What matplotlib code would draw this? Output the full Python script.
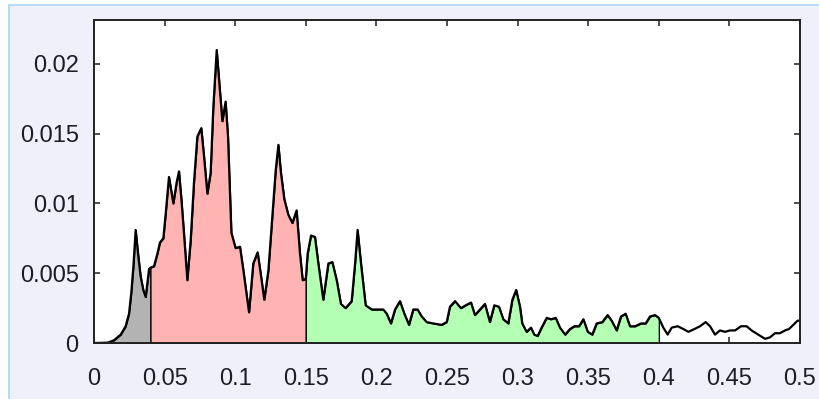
import matplotlib
matplotlib.use("Agg")
import matplotlib.pyplot as plt
import numpy as np
from matplotlib.patches import Rectangle
from matplotlib.ticker import FuncFormatter

# spectrum (frequency, power)
freq = [
    0.0, 0.005, 0.010, 0.0142, 0.0189, 0.0224, 0.0248, 0.0264, 0.0279, 0.0295,
    0.0312, 0.0330, 0.0349, 0.0366, 0.0378, 0.0390, 0.0400,
    0.0425, 0.0449, 0.0467, 0.0491, 0.0508, 0.0531, 0.0562, 0.0585, 0.0602,
    0.0619, 0.0637, 0.0661, 0.0685, 0.0708, 0.0732, 0.0760, 0.0779, 0.0803,
    0.0826, 0.0845, 0.0869, 0.0892, 0.0909, 0.0932, 0.0949, 0.0973, 0.1003,
    0.1034, 0.1058, 0.1098, 0.1128, 0.1159, 0.1183, 0.1206, 0.1235, 0.1263,
    0.1287, 0.1306, 0.1324, 0.1348, 0.1376, 0.1405, 0.1435, 0.1459, 0.1478,
    0.1500,
    0.1513, 0.1537, 0.1565, 0.1589, 0.1624, 0.1660, 0.1688, 0.1719, 0.1749,
    0.1782, 0.1825, 0.1849, 0.1867, 0.1891, 0.1924, 0.1967, 0.2026, 0.2049,
    0.2073, 0.2103, 0.2132, 0.2167, 0.2198, 0.2231, 0.2261, 0.2292, 0.2321,
    0.2356, 0.2403, 0.2462, 0.2498, 0.2521, 0.2557, 0.2599, 0.2632, 0.2670,
    0.2698, 0.2734, 0.2769, 0.2804, 0.2835, 0.2868, 0.2899, 0.2934, 0.2963,
    0.2990, 0.3017, 0.3033, 0.3064, 0.3095, 0.3118, 0.3142, 0.3170, 0.3206,
    0.3236, 0.3270, 0.3300, 0.3337, 0.3371, 0.3402, 0.3435, 0.3466, 0.3497,
    0.3529, 0.3560, 0.3600, 0.3638, 0.3666, 0.3702, 0.3732, 0.3765, 0.3796,
    0.3832, 0.3874, 0.3907, 0.3938, 0.3973, 0.4000,
    0.4032, 0.4063, 0.4091, 0.4134, 0.4174, 0.4209, 0.4252, 0.4292, 0.4332,
    0.4363, 0.4398, 0.4433, 0.4469, 0.4504, 0.4540, 0.4582, 0.4622, 0.4657,
    0.4705, 0.4752, 0.4787, 0.4823, 0.4858, 0.4894, 0.4922, 0.4953, 0.4983,
    0.5000,
]
power = [
    0.0, 0.00001, 0.00003, 0.0002, 0.0006, 0.0012, 0.0021, 0.0036, 0.0055, 0.0081,
    0.0064, 0.0048, 0.0038, 0.0033, 0.0043, 0.0053, 0.0054,
    0.0055, 0.0064, 0.0072, 0.0075, 0.0093, 0.0119, 0.0100, 0.0115, 0.0123,
    0.0103, 0.0079, 0.0045, 0.0074, 0.0115, 0.0148, 0.0154, 0.0134, 0.0107,
    0.0122, 0.0169, 0.0210, 0.0181, 0.0159, 0.0173, 0.0148, 0.0079, 0.0068,
    0.0069, 0.0052, 0.0022, 0.0057, 0.0065, 0.0048, 0.0031, 0.0052, 0.0091,
    0.0124, 0.0142, 0.0122, 0.0103, 0.0092, 0.0086, 0.0095, 0.0064, 0.0045,
    0.0046,
    0.0064, 0.0077, 0.0076, 0.0057, 0.0031, 0.0057, 0.0058, 0.0045, 0.0028,
    0.0025, 0.0030, 0.0057, 0.0081, 0.0057, 0.0027, 0.0024, 0.0024, 0.0024,
    0.0021, 0.0014, 0.0024, 0.0030, 0.0021, 0.0013, 0.0024, 0.0024, 0.0019,
    0.0015, 0.0014, 0.0013, 0.0015, 0.0026, 0.0030, 0.0025, 0.0027, 0.0029,
    0.0020, 0.0024, 0.0028, 0.0015, 0.0027, 0.0026, 0.0017, 0.0014, 0.0031,
    0.0038, 0.0026, 0.0014, 0.0008, 0.0011, 0.0006, 0.0005, 0.0011, 0.0018,
    0.0017, 0.0018, 0.0011, 0.0006, 0.0010, 0.0012, 0.0012, 0.0017, 0.0008,
    0.0006, 0.0014, 0.0015, 0.0020, 0.0016, 0.0009, 0.0019, 0.0021, 0.0012,
    0.0012, 0.0014, 0.0014, 0.0019, 0.0020, 0.0018,
    0.0011, 0.0006, 0.0011, 0.0012, 0.0010, 0.0008, 0.0010, 0.0012, 0.0015,
    0.0012, 0.0006, 0.0009, 0.0008, 0.0009, 0.0009, 0.0012, 0.0012, 0.0009,
    0.0006, 0.0003, 0.0004, 0.0007, 0.0007, 0.0009, 0.0010, 0.0013, 0.0016,
    0.0016,
]

# frequency bands (VLF / LF / HF) and their colours
band_edges = [(0.0, 0.04), (0.04, 0.15), (0.15, 0.4)]
band_colors = ["#b3b3b3", "#ffb3b3", "#b3ffb3"]

x_ticks = [0, 0.05, 0.1, 0.15, 0.2, 0.25, 0.3, 0.35, 0.4, 0.45, 0.5]
y_ticks = [0, 0.005, 0.01, 0.015, 0.02]

f = np.array(freq)
p = np.array(power)

fig = plt.figure(figsize=(8.2, 3.99), dpi=100, facecolor="white")
# light panel behind the axes, like the window it was cut from
fig.patches.append(Rectangle((8.5 / 820, -0.1), 1.2, 1.1 - 5.5 / 399,
                             transform=fig.transFigure, facecolor="#f0f0fa",
                             edgecolor="#a9d8f2", linewidth=1.2, zorder=-1))

ax = fig.add_axes([94 / 820, 56 / 399, 706 / 820, 323 / 399])
ax.set_facecolor("white")

for (lo, hi), col in zip(band_edges, band_colors):
    m = (f >= lo) & (f <= hi)
    ax.fill_between(f[m], p[m], 0, facecolor=col, edgecolor="black",
                    linewidth=0.9, zorder=2)

ax.plot(f, p, color="black", linewidth=1.6, zorder=3)

ax.set_xlim(0, 0.5)
ax.set_ylim(0, 0.02315)
ax.set_xticks(x_ticks)
ax.set_yticks(y_ticks)
fmt = FuncFormatter(lambda v, pos: "%g" % v)
ax.xaxis.set_major_formatter(fmt)
ax.yaxis.set_major_formatter(fmt)

ax.tick_params(direction="in", length=4, width=1.1, top=True, right=True,
               colors="#1c1c2a", labelsize=17)
ax.tick_params(axis="x", pad=18)
ax.tick_params(axis="y", pad=11)
for lab in ax.get_xticklabels() + ax.get_yticklabels():
    lab.set_fontfamily(["Liberation Sans", "DejaVu Sans"])

for spine in ax.spines.values():
    spine.set_linewidth(1.4)
    spine.set_color("#222222")
    spine.set_zorder(4)

fig.savefig("out.png", dpi=100, facecolor=fig.get_facecolor())
